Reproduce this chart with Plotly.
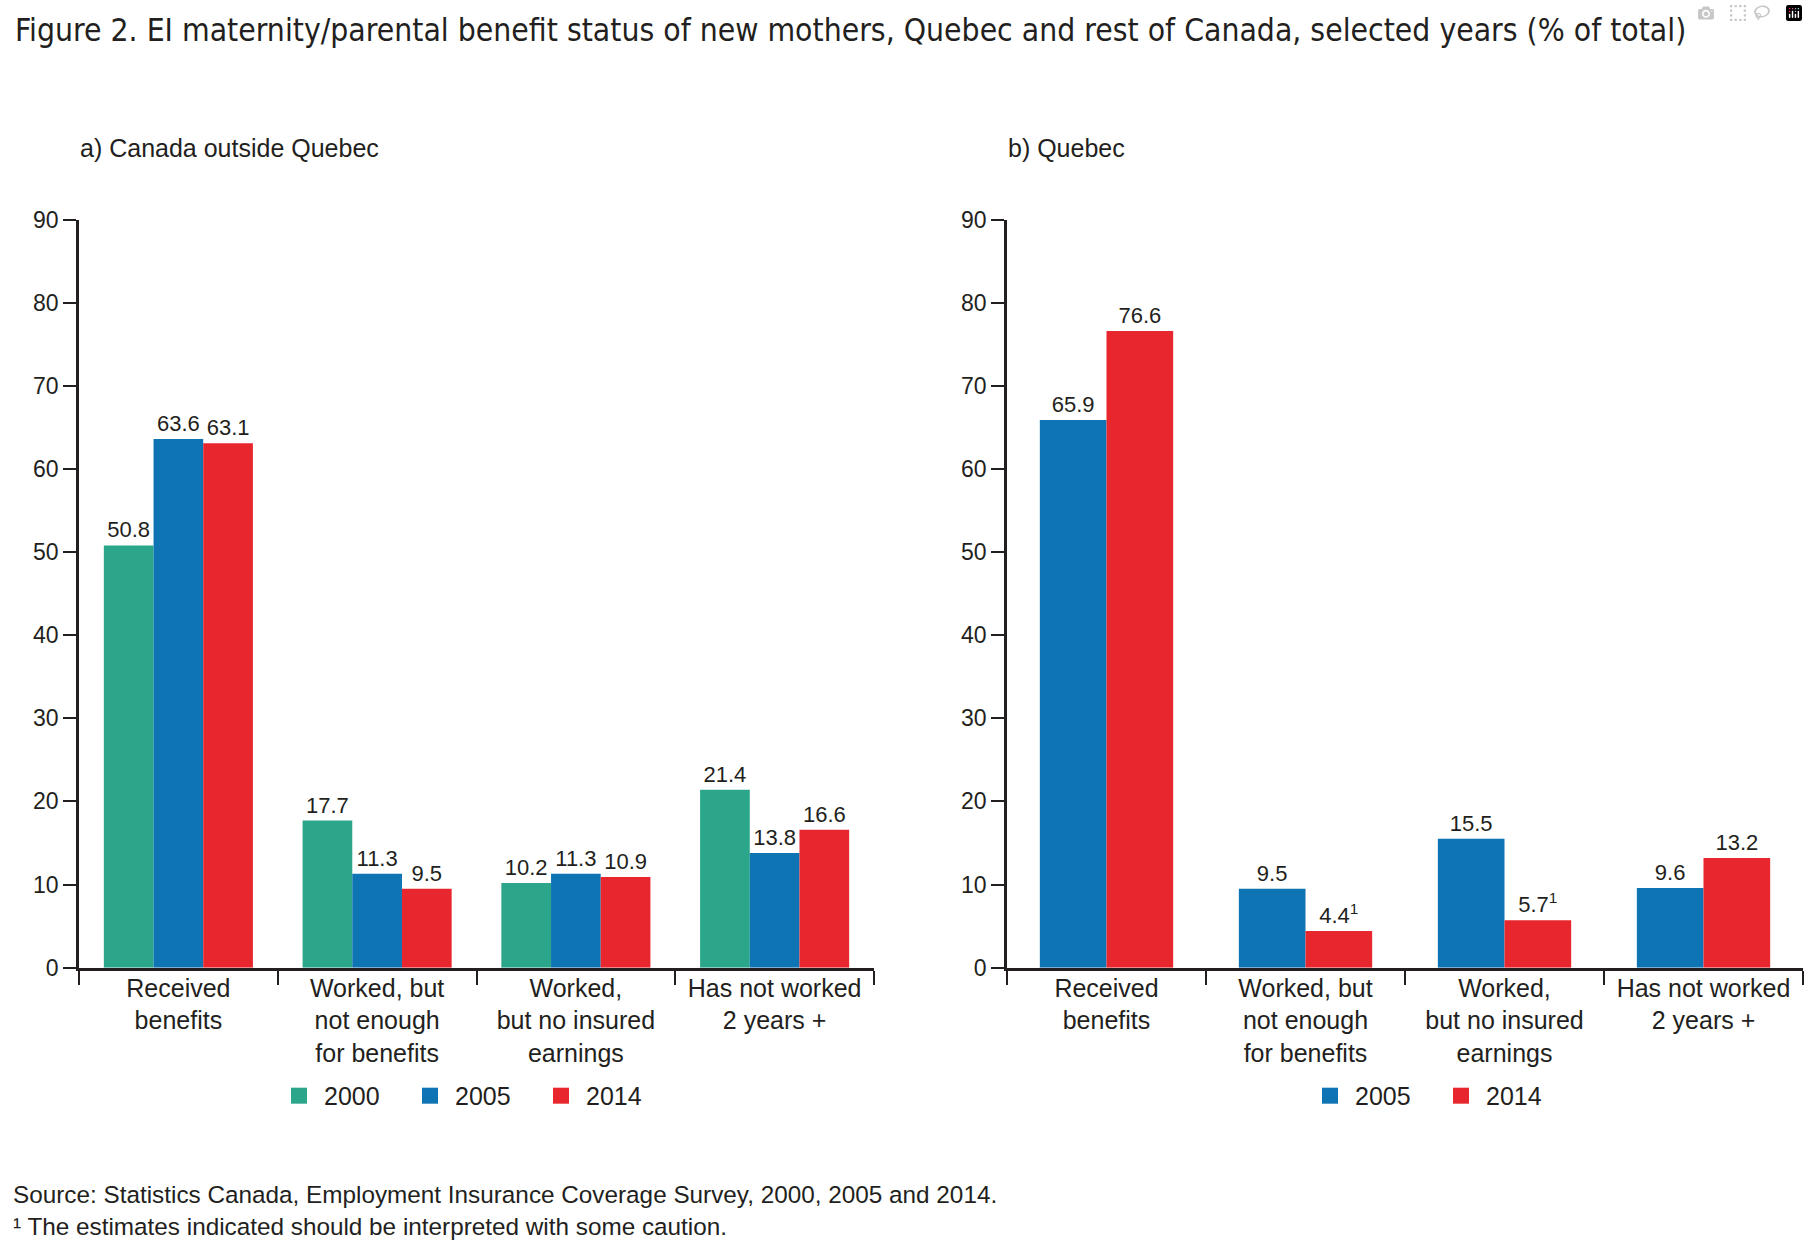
import plotly.graph_objects as go

categories = ["Received<br>benefits", "Worked, but<br>not enough<br>for benefits",
              "Worked,<br>but no insured<br>earnings", "Has not worked<br>2 years +"]

# a) Canada outside Quebec
roc_2000 = [50.8, 17.7, 10.2, 21.4]
roc_2005 = [63.6, 11.3, 11.3, 13.8]
roc_2014 = [63.1, 9.5, 10.9, 16.6]

# b) Quebec
qc_2005 = [65.9, 9.5, 15.5, 9.6]
qc_2014 = [76.6, 4.4, 5.7, 13.2]
qc_2014_caution = [False, True, True, False]
qc_2005_caution = [False, False, False, False]

y_ticks = [0, 10, 20, 30, 40, 50, 60, 70, 80, 90]

title = "Figure 2. EI maternity/parental benefit status of new mothers, Quebec and rest of Canada, selected years (% of total)"
sub_a = "a) Canada outside Quebec"
sub_b = "b) Quebec"
source = "Source: Statistics Canada, Employment Insurance Coverage Survey, 2000, 2005 and 2014."
note = "\u00b9 The estimates indicated should be interpreted with some caution."

C2000 = "#2BA68A"
C2005 = "#0F74B3"
C2014 = "#E8262E"
INK = "#231f20"
FONT = "Liberation Sans, Arial, sans-serif"
TITLE_FONT = "DejaVu Sans Condensed, DejaVu Sans, sans-serif"

W, H = 1808, 1247


def py(px):
    """pixel row (from top) -> paper fraction"""
    return 1 - px / H


def labels(vals, caution=None):
    out = []
    for i, v in enumerate(vals):
        s = f"{v:.1f}"
        if caution and caution[i]:
            s += "<sup>1</sup>"
        out.append(s)
    return out


fig = go.Figure()


def add_bar(vals, color, name, xa, ya, width, offset, caution=None):
    fig.add_trace(go.Bar(
        x=categories, y=vals, name=name, xaxis=xa, yaxis=ya,
        marker=dict(color=color, line=dict(width=0)),
        width=width, offset=offset,
        text=labels(vals, caution), textposition="outside",
        textfont=dict(family=FONT, size=22, color=INK),
        constraintext="none", cliponaxis=False, showlegend=False,
        hoverinfo="skip",
    ))


wl = 0.25
add_bar(roc_2000, C2000, "2000", "x", "y", wl, -1.5 * wl)
add_bar(roc_2005, C2005, "2005", "x", "y", wl, -0.5 * wl)
add_bar(roc_2014, C2014, "2014", "x", "y", wl, 0.5 * wl)
wr = 0.335
add_bar(qc_2005, C2005, "2005", "x2", "y2", wr, -wr, qc_2005_caution)
add_bar(qc_2014, C2014, "2014", "x2", "y2", wr, 0.0, qc_2014_caution)

# legend entries
for name, color, xa, ya, lg in [("2000", C2000, "x", "y", "legend"),
                                ("2005", C2005, "x", "y", "legend"),
                                ("2014", C2014, "x", "y", "legend"),
                                ("2005", C2005, "x2", "y2", "legend2"),
                                ("2014", C2014, "x2", "y2", "legend2")]:
    fig.add_trace(go.Scatter(
        x=[categories[0]], y=[None], mode="markers", name=name,
        xaxis=xa, yaxis=ya, legend=lg,
        marker=dict(symbol="square", size=20, color=color),
        hoverinfo="skip",
    ))

ydom = [py(975), py(211)]
xdom1 = [79 / W, 874 / W]
xdom2 = [1007 / W, 1803 / W]

xaxis_common = dict(
    type="category", showline=True, linecolor=INK, linewidth=2.7,
    ticks="outside", tickson="boundaries", ticklen=14, tickwidth=2.2, tickcolor=INK,
    tickfont=dict(family=FONT, size=25, color=INK), showgrid=False, zeroline=False,
    ticklabelstandoff=-4, fixedrange=True,
)
yaxis_common = dict(
    range=[0, 90], tickvals=y_ticks, showline=True, linecolor=INK, linewidth=2.7,
    ticks="outside", ticklen=13, tickwidth=2.2, tickcolor=INK,
    tickfont=dict(family=FONT, size=23, color=INK), showgrid=False, zeroline=False,
    fixedrange=True,
)

legend_common = dict(orientation="h", xanchor="left", y=py(1106), yanchor="middle",
                     font=dict(family=FONT, size=25, color=INK), entrywidth=76,
                     itemwidth=40, bgcolor="rgba(0,0,0,0)")

fig.update_layout(
    width=W, height=H, margin=dict(l=0, r=0, t=0, b=0),
    paper_bgcolor="white", plot_bgcolor="white",
    barmode="overlay",
    font=dict(family=FONT, color=INK),
    xaxis=dict(domain=xdom1, anchor="y", **xaxis_common),
    yaxis=dict(domain=ydom, anchor="x", **yaxis_common),
    xaxis2=dict(domain=xdom2, anchor="y2", **xaxis_common),
    yaxis2=dict(domain=ydom, anchor="x2", **yaxis_common),
    legend=dict(x=274 / W, **legend_common),
    legend2=dict(x=1305 / W, **legend_common),
    showlegend=True,
)

ann = [
    dict(text=title, x=13 / W, y=py(17), xanchor="left", yanchor="middle",
         font=dict(family=TITLE_FONT, size=31.6, color=INK)),
    dict(text=sub_a, x=78 / W, y=py(138), xanchor="left", yanchor="middle",
         font=dict(family=FONT, size=25, color=INK)),
    dict(text=sub_b, x=1006 / W, y=py(138), xanchor="left", yanchor="middle",
         font=dict(family=FONT, size=25, color=INK)),
    dict(text=source, x=11 / W, y=py(1207), xanchor="left", yanchor="middle",
         font=dict(family=FONT, size=24.3, color=INK)),
    dict(text=note, x=11 / W, y=py(1239), xanchor="left", yanchor="middle",
         font=dict(family=FONT, size=24.3, color=INK)),
]
for a in ann:
    a.update(xref="paper", yref="paper", showarrow=False)
fig.update_layout(annotations=ann)

fig.write_html("out.html", post_script="document.body.style.margin='0';")
